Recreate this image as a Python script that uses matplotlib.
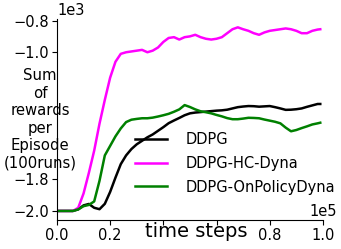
import matplotlib
matplotlib.use('Agg')
import matplotlib.pyplot as plt

# time steps (sampling grid) and mean episode reward per method
steps = [0, 2000, 4000, 6000, 8000, 10000, 12000, 14000, 16000, 18000,
         20000, 22000, 24000, 26000, 28000, 30000, 32000, 34000, 36000, 38000,
         40000, 42000, 44000, 46000, 48000, 50000, 52000, 54000, 56000, 58000,
         60000, 62000, 64000, 66000, 68000, 70000, 72000, 74000, 76000, 78000,
         80000, 82000, 84000, 86000, 88000, 90000, 92000, 94000, 96000, 98000, 99000]

ddpg = [-2000, -2000, -2000, -2000, -1990, -1965, -1956, -1980, -1989, -1955,
        -1880, -1790, -1705, -1650, -1610, -1580, -1558, -1536, -1518, -1495,
        -1472, -1447, -1430, -1414, -1397, -1385, -1380, -1377, -1374, -1371,
        -1368, -1366, -1362, -1354, -1346, -1342, -1339, -1340, -1343, -1341,
        -1339, -1346, -1354, -1363, -1362, -1359, -1354, -1344, -1335, -1326, -1326]

hc_dyna = [-2000, -2000, -2000, -2000, -1980, -1890, -1760, -1620, -1450, -1300,
           -1160, -1060, -1010, -1000, -995, -990, -985, -1000, -990, -970,
           -935, -910, -905, -920, -905, -900, -890, -905, -915, -920,
           -915, -905, -880, -855, -843, -855, -865, -880, -890, -875,
           -865, -860, -855, -850, -855, -865, -880, -880, -865, -857, -855]

onpolicy_dyna = [-2000, -2000, -2000, -2000, -1990, -1970, -1962, -1940, -1810, -1650,
                 -1590, -1530, -1480, -1440, -1425, -1420, -1416, -1416, -1412, -1405,
                 -1397, -1388, -1375, -1360, -1333, -1345, -1360, -1372, -1378, -1385,
                 -1395, -1404, -1415, -1422, -1422, -1418, -1413, -1414, -1416, -1424,
                 -1431, -1438, -1448, -1475, -1498, -1490, -1478, -1467, -1455, -1448, -1444]

labels = ['DDPG', 'DDPG-HC-Dyna', 'DDPG-OnPolicyDyna']
colors = ['black', 'magenta', 'green']

# ticks: only some carry labels (others sit under the axis labels)
xticks_major = [0, 20000, 80000, 100000]
xticks_minor = [40000, 60000]
yticks_major = [-2000, -1800, -1000, -800]

fig = plt.figure(figsize=(3.41, 2.49), dpi=100)
ax = fig.add_axes([0.167, 0.1165, 0.78, 0.8075])

for ys, lab, c in zip([ddpg, hc_dyna, onpolicy_dyna], labels, colors):
    ax.plot(steps, ys, color=c, lw=1.8, label=lab)

ax.set_xlim(0, 100000)
ax.set_ylim(-2057, -790)
ax.set_xticks(xticks_major)
ax.set_xticks(xticks_minor, minor=True)
ax.set_yticks(yticks_major)
ax.ticklabel_format(style='sci', axis='both', scilimits=(0, 0))
ax.tick_params(labelsize=10.5, pad=2)
ax.tick_params(axis='x', which='minor', length=3.5, width=0.8)
ax.spines['top'].set_visible(False)
ax.spines['right'].set_visible(False)

ax.set_ylabel('Sum\nof\nrewards\nper\nEpisode\n(100runs)', rotation=0, fontsize=10.7,
              ha='center', va='center', multialignment='center')
ax.yaxis.set_label_coords(-0.064, 0.5)
ax.set_xlabel('time steps', fontsize=14)
ax.xaxis.set_label_coords(0.524, -0.055)
ax.xaxis.label.set_va('center')

ax.yaxis.get_offset_text().set_fontsize(10.5)

fig.canvas.draw()
xoff = ax.xaxis.get_major_formatter().get_offset()
ax.xaxis.get_offset_text().set_visible(False)
fig.text(337 / 341, 1 - 211 / 249, xoff, ha='right', va='center', fontsize=10.5)

ax.legend(loc='upper left', bbox_to_anchor=(135 / 341, 1 - 132 / 249),
          bbox_transform=fig.transFigure, frameon=False, fontsize=10.5,
          borderpad=0, borderaxespad=0, handlelength=2.2, handletextpad=1.3,
          labelspacing=0.6)

fig.savefig('out.png', dpi=100)
